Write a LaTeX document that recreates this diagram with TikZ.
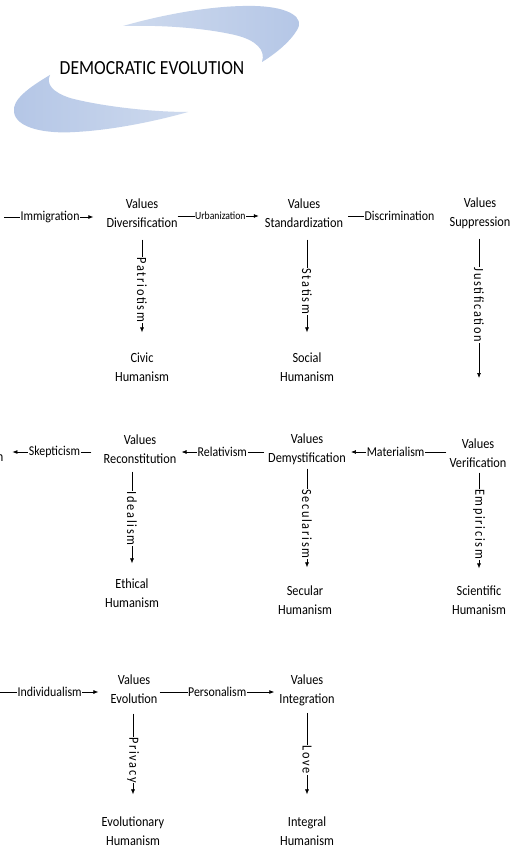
\documentclass[tikz,border=0pt]{standalone}
\usepackage{fontspec}
\setmainfont[FakeStretch=0.88]{Carlito}
\newfontfamily\spacedfont[FakeStretch=0.88,LetterSpace=12]{Carlito}
\usetikzlibrary{arrows.meta,calc}
\definecolor{swdark}{RGB}{180,198,230}
\definecolor{swmid}{RGB}{206,218,238}
\definecolor{swlight}{RGB}{236,240,248}
\tikzset{
  val/.style={align=center,inner sep=0pt,font=\fontsize{14}{19}\selectfont},
  arr/.style={-{Latex[length=5pt,width=4pt]},line width=0.7pt,black},
  lab/.style={fill=white,inner xsep=0.6pt,inner ysep=1.2pt,font=\fontsize{13.5}{16}\selectfont},
  slab/.style={fill=white,inner xsep=0.6pt,inner ysep=1.2pt,font=\fontsize{11}{13}\selectfont},
  vlab/.style={fill=white,inner xsep=0.6pt,inner ysep=1.2pt,rotate=-90,font=\spacedfont\fontsize{14}{16}\selectfont},
}
\begin{document}
\begin{tikzpicture}[x=1pt,y=-1pt]
\clip (0,0) rectangle (510,848);
\fill[white] (0,0) rectangle (510,848);
% swooshes
\shade[left color=swmid,middle color=swlight,right color=swdark]
 (123,26) .. controls (165,14) and (215,5) .. (255,6)
 .. controls (290,7) and (305,18) .. (297,30)
 .. controls (290,42) and (275,54) .. (262,62)
 .. controls (266,50) and (256,40) .. (235,35)
 .. controls (200,27) and (155,25) .. (123,26) -- cycle;
\shade[left color=swdark,middle color=swlight,right color=swmid]
 (50,75) .. controls (28,88) and (12,100) .. (14,112)
 .. controls (16,128) and (45,134) .. (75,132)
 .. controls (115,130) and (160,120) .. (188,112)
 .. controls (150,112) and (100,106) .. (70,98)
 .. controls (52,92) and (46,84) .. (50,75) -- cycle;
\node[font=\fontsize{20}{24}\selectfont] (title) at (152,68) {DEMOCRATIC EVOLUTION};

% row 1
\coordinate (i0) at (4,217);
\node[val] (div) at (142,213) {Values\\Diversification};
\node[val] (std) at (304,213) {Values\\Standardization};
\node[val] (sup) at (480,213) {Values\\Suppression};
\node[val] (civ) at (142,367) {Civic\\Humanism};
\node[val] (soc) at (307,367) {Social\\Humanism};
\coordinate (j1) at (479,378);

\draw[arr,shorten >=13pt] (i0) -- node[lab,pos=0.45]{Immigration} ($(div.west)+(0,4)$);
\draw[arr,shorten >=6pt] ($(div.east)+(0,3)$) -- node[slab,pos=0.49]{Urbanization} ($(std.west)+(0,3)$);
\draw[arr,shorten <=5pt,shorten >=20pt] ($(std.east)+(0,3)$) -- node[lab,pos=0.53]{Discrimination} ($(sup.west)+(0,3)$);
\draw[arr,shorten <=12pt,shorten >=20pt] (div.south) -- node[vlab,pos=0.5]{Patriotism} (civ.north);
\draw[arr,shorten <=12pt,shorten >=20pt] (std.south -| soc.north) -- node[vlab,pos=0.51]{Statism} (soc.north);
\draw[arr,shorten <=10pt] (sup.south -| j1) -- node[vlab,pos=0.51]{Justification} (j1);

% row 2
\node[val] (nn) at (0,458) {n};
\node[val] (rec) at (140,449) {Values\\Reconstitution};
\node[val] (dem) at (307,449) {Values\\Demystification};
\node[val] (ver) at (478,453) {Values\\Verification};
\node[val] (eth) at (132,593) {Ethical\\Humanism};
\node[val] (sech) at (305,600) {Secular\\Humanism};
\node[val] (sci) at (479,600) {Scientific\\Humanism};

\draw[arr,shorten <=12pt,shorten >=9pt] ($(rec.west)+(0,3)$) -- node[lab,pos=0.49]{Skepticism} ($(nn.east)+(0,-6)$);
\draw[arr,shorten <=4pt,shorten >=5pt] ($(dem.west)+(0,3)$) -- node[lab,pos=0.5]{Relativism} ($(rec.east)+(0,3)$);
\draw[arr,shorten <=3pt,shorten >=5pt] ($(ver.west)+(0,-1)$) -- node[lab,pos=0.52]{Materialism} ($(dem.east)+(0,3)$);
\draw[arr,shorten <=8pt,shorten >=15pt] (rec.south -| eth.north) -- node[vlab,pos=0.48]{Idealism} (eth.north);
\draw[arr,shorten <=4pt,shorten >=18pt] (dem.south) -- node[vlab,pos=0.49]{Secularism} (dem.south |- sech.north);
\draw[arr,shorten <=5pt,shorten >=17pt] (ver.south -| sci.north) -- node[vlab,pos=0.48]{Empiricism} (sci.north);

% row 3
\coordinate (i3) at (0,692);
\node[val] (evo) at (134,689) {Values\\Evolution};
\node[val] (int) at (307,690) {Values\\Integration};
\node[val] (evh) at (133,831) {Evolutionary\\Humanism};
\node[val] (inh) at (307,831) {Integral\\Humanism};

\draw[arr,shorten >=12pt] (i3) -- node[lab,pos=0.45]{Individualism} ($(evo.west)+(0,3)$);
\draw[arr,shorten <=2pt,shorten >=5pt] ($(evo.east)+(0,3)$) -- node[lab,pos=0.49]{Personalism} ($(int.west)+(0,2)$);
\draw[arr,shorten <=10pt,shorten >=22pt] (evo.south -| evh.north) -- node[vlab,pos=0.5]{Privacy} (evh.north);
\draw[arr,shorten <=7pt,shorten >=22pt] (int.south) -- node[vlab,pos=0.49]{Love} (inh.north);
\end{tikzpicture}
\end{document}
